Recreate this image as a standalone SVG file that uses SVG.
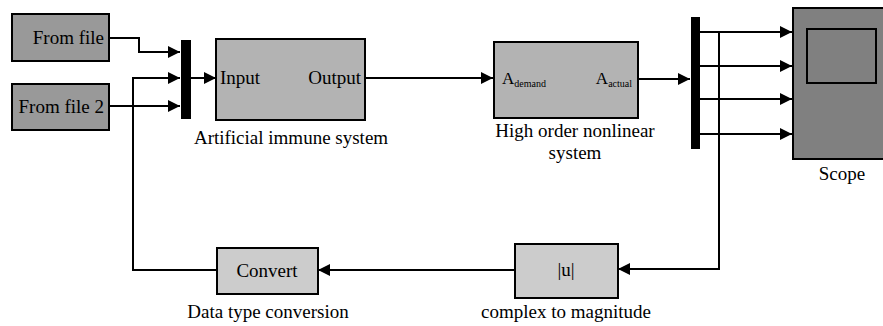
<svg xmlns="http://www.w3.org/2000/svg" width="883" height="326" viewBox="0 0 883 326">
<style>
text{font-family:"Liberation Serif","Times New Roman",serif;fill:#000}
.t{font-size:19px}
.blk{stroke:#000;stroke-width:2}
.ln{fill:none;stroke:#000;stroke-width:2}
</style>
<defs>
<marker id="ah" markerWidth="12" markerHeight="12" refX="12" refY="6" orient="auto" markerUnits="userSpaceOnUse">
<path d="M0,0 L12,6 L0,12 Z" fill="#000"/>
</marker>
</defs>
<rect width="883" height="326" fill="#fff"/>
<g id="connectors">
<path class="ln" d="M109,38 H139 V52 H180" marker-end="url(#ah)"/>
<path class="ln" d="M109,106 H180" marker-end="url(#ah)"/>
<path class="ln" d="M216,270 H133 V78 H180" marker-end="url(#ah)"/>
<path class="ln" d="M191,78 H216" marker-end="url(#ah)"/>
<path class="ln" d="M365,78 H493" marker-end="url(#ah)"/>
<path class="ln" d="M638,79 H690" marker-end="url(#ah)"/>
<path class="ln" d="M700,32 H792" marker-end="url(#ah)"/>
<path class="ln" d="M700,66 H792" marker-end="url(#ah)"/>
<path class="ln" d="M700,99 H792" marker-end="url(#ah)"/>
<path class="ln" d="M700,134 H792" marker-end="url(#ah)"/>
<path class="ln" d="M719,32 V269 H618" marker-end="url(#ah)"/>
<path class="ln" d="M515,270 H318" marker-end="url(#ah)"/>
</g>
<g id="fromfile">
<rect class="blk" x="12" y="14" width="97" height="47" fill="#999"/>
<text class="t" x="104" y="44" text-anchor="end">From file</text>
</g>
<g id="fromfile2">
<rect class="blk" x="12" y="84" width="97" height="46" fill="#999"/>
<text class="t" x="104" y="113" text-anchor="end">From file 2</text>
</g>
<g id="mux1">
<rect x="181" y="40" width="10" height="79" fill="#000"/>
</g>
<g id="ais">
<rect class="blk" x="216" y="39" width="149" height="81" fill="#b3b3b3"/>
<text class="t" x="220" y="84">Input</text>
<text class="t" x="361" y="84" text-anchor="end">Output</text>
<text class="t" x="291" y="144" text-anchor="middle">Artificial immune system</text>
</g>
<g id="hons">
<rect class="blk" x="494" y="42" width="144" height="76" fill="#b3b3b3"/>
<text x="502" y="84" font-size="17">A<tspan font-size="10" dy="3">demand</tspan></text>
<text x="632" y="84" font-size="17" text-anchor="end">A<tspan font-size="10" dy="3">actual</tspan></text>
<text class="t" x="575" y="137" text-anchor="middle">High order nonlinear</text>
<text class="t" x="575" y="159" text-anchor="middle">system</text>
</g>
<g id="mux2">
<rect x="691" y="17" width="9" height="132" fill="#000"/>
</g>
<g id="scope">
<rect class="blk" x="793" y="8" width="95" height="151" fill="#808080"/>
<rect class="blk" x="807" y="29" width="69" height="54" fill="#808080"/>
<text class="t" x="842" y="180" text-anchor="middle">Scope</text>
</g>
<g id="abs">
<rect class="blk" x="515" y="244" width="103" height="54" fill="#ccc"/>
<text class="t" x="566" y="276" text-anchor="middle">|u|</text>
<text class="t" x="566" y="318" text-anchor="middle">complex to magnitude</text>
</g>
<g id="convert">
<rect class="blk" x="217" y="248" width="101" height="46" fill="#ccc"/>
<text class="t" x="267" y="277" text-anchor="middle">Convert</text>
<text class="t" x="268" y="318" text-anchor="middle">Data type conversion</text>
</g>
</svg>
